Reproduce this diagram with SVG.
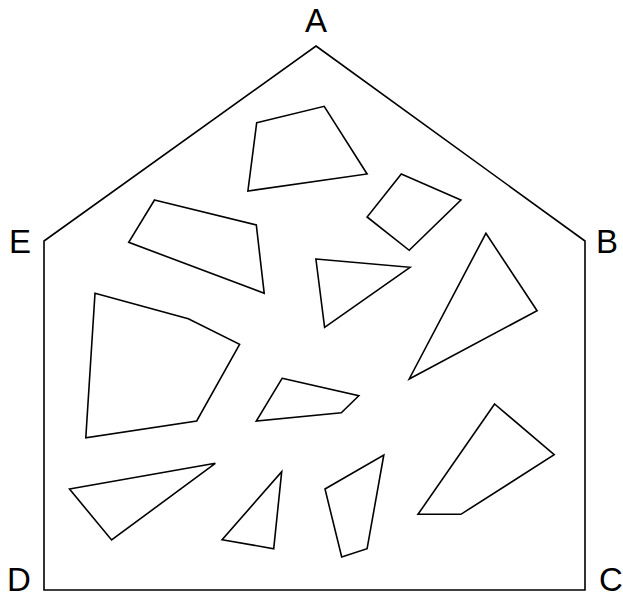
<svg xmlns="http://www.w3.org/2000/svg" width="623" height="592" viewBox="0 0 623 592">
<style>
.s{fill:none;stroke:#000;stroke-width:1.6;stroke-linejoin:miter}
.l{font-family:"Liberation Sans",Arial,sans-serif;font-size:33px;fill:#000}
</style>
<rect width="623" height="592" fill="#fff"/>
<g id="outline">
<polygon class="s" points="316,46 585,241 585,590 44,590 44,241"/>
</g>
<g id="labels">
<text class="l" x="316" y="32" text-anchor="middle">A</text>
<text class="l" x="596" y="253">B</text>
<text class="l" x="599" y="591">C</text>
<text class="l" x="7" y="591">D</text>
<text class="l" x="9" y="253">E</text>
</g>
<g id="holes">
<polygon class="s" points="256.7,122.7 324.2,106.3 367.1,174 247.9,191"/>
<polygon class="s" points="401.3,174 460.9,200 409.2,250.3 367.1,217"/>
<polygon class="s" points="154.5,200 256.3,225 264.2,293.3 128.7,242.3"/>
<polygon class="s" points="315.9,259 410,267.3 324.6,327.3"/>
<polygon class="s" points="485.9,233.3 537.1,310.7 409.2,379"/>
<polygon class="s" points="95,293.3 188.3,318.7 239.6,344.3 196.7,421 85.8,437.7"/>
<polygon class="s" points="282.1,378.3 358.8,395.7 341.3,412.7 256.3,421"/>
<polygon class="s" points="494.6,404 554.2,454.7 460.9,514.3 418,514.3"/>
<polygon class="s" points="69.5,489 215.3,463.3 111.6,540"/>
<polygon class="s" points="281.7,471.7 273.7,548.7 222.1,539.7"/>
<polygon class="s" points="383.8,455 367.1,548.7 341.7,557 325,489"/>
</g>
</svg>
